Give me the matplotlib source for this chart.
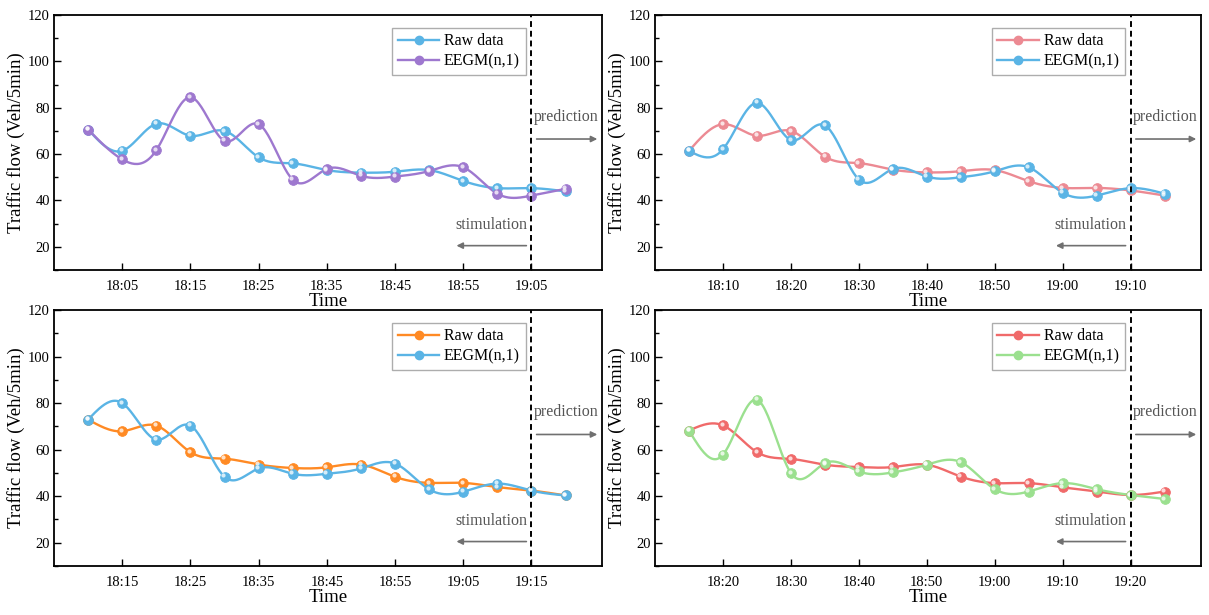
import numpy as np
import matplotlib
matplotlib.use("Agg")
import matplotlib.pyplot as plt
from matplotlib.transforms import offset_copy
from matplotlib.ticker import MultipleLocator

plt.rcParams["font.family"] = ["Liberation Serif", "DejaVu Serif"]

# ---- data (veh / 5 min) ----
times_1 = ["18:00", "18:05", "18:10", "18:15", "18:20", "18:25", "18:30", "18:35",
           "18:40", "18:45", "18:50", "18:55", "19:00", "19:05", "19:10"]
raw_1 = [70.6, 61.4, 73.1, 67.9, 70.0, 58.6, 56.0, 53.1, 52.0, 52.4, 53.1, 48.4, 45.3, 45.3, 43.9]
eegm_1 = [70.6, 57.7, 61.7, 84.5, 65.7, 72.9, 48.9, 53.6, 50.6, 50.3, 52.7, 54.3, 42.9, 42.1, 45.0]

times_2 = ["18:05", "18:10", "18:15", "18:20", "18:25", "18:30", "18:35", "18:40",
           "18:45", "18:50", "18:55", "19:00", "19:05", "19:10", "19:15"]
raw_2 = [61.4, 72.9, 67.9, 70.0, 58.9, 56.1, 53.3, 52.1, 52.6, 53.1, 48.3, 45.4, 45.4, 44.3, 42.1]
eegm_2 = [61.4, 62.1, 82.1, 66.1, 72.4, 49.0, 53.6, 50.3, 50.0, 52.6, 54.3, 43.3, 42.1, 45.3, 42.9]

times_3 = ["18:10", "18:15", "18:20", "18:25", "18:30", "18:35", "18:40", "18:45",
           "18:50", "18:55", "19:00", "19:05", "19:10", "19:15", "19:20"]
raw_3 = [72.9, 67.9, 70.3, 58.9, 56.1, 53.6, 52.1, 52.4, 53.6, 48.3, 45.7, 45.7, 43.9, 42.4, 40.3]
eegm_3 = [72.9, 80.0, 64.3, 70.3, 48.3, 51.9, 49.6, 49.6, 51.9, 54.0, 42.9, 41.9, 45.4, 42.4, 40.3]

times_4 = ["18:15", "18:20", "18:25", "18:30", "18:35", "18:40", "18:45", "18:50",
           "18:55", "19:00", "19:05", "19:10", "19:15", "19:20", "19:25"]
raw_4 = [68.2, 70.4, 58.9, 56.0, 53.5, 52.5, 52.5, 53.5, 48.4, 45.6, 45.6, 43.8, 42.0, 40.5, 42.0]
eegm_4 = [68.2, 57.8, 81.4, 49.9, 54.2, 50.6, 50.2, 53.5, 54.6, 43.0, 42.0, 45.6, 43.0, 40.5, 38.8]

split_idx = 13  # last fitted point, start of prediction

panels = [
    (times_1, raw_1, eegm_1, "#5AB4E5", "#9E78CF"),
    (times_2, raw_2, eegm_2, "#EC8A93", "#5AB4E5"),
    (times_3, raw_3, eegm_3, "#FF8A24", "#5AB4E5"),
    (times_4, raw_4, eegm_4, "#F06A6A", "#9BE08F"),
]


def smooth(x, y, n=25):
    """natural cubic spline through the points, only for drawing the line"""
    x = np.asarray(x, float); y = np.asarray(y, float)
    k = len(x); h = np.diff(x)
    A = np.zeros((k, k)); b = np.zeros(k)
    A[0, 0] = A[-1, -1] = 1
    for i in range(1, k - 1):
        A[i, i - 1] = h[i - 1]; A[i, i] = 2 * (h[i - 1] + h[i]); A[i, i + 1] = h[i]
        b[i] = 6 * ((y[i + 1] - y[i]) / h[i] - (y[i] - y[i - 1]) / h[i - 1])
    M = np.linalg.solve(A, b)
    xs, ys = [], []
    for i in range(k - 1):
        t = np.linspace(x[i], x[i + 1], n, endpoint=(i == k - 2))
        a, c = x[i + 1] - t, t - x[i]
        s = (M[i] * a ** 3 + M[i + 1] * c ** 3) / (6 * h[i]) \
            + (y[i] / h[i] - M[i] * h[i] / 6) * a + (y[i + 1] / h[i] - M[i + 1] * h[i] / 6) * c
        xs.append(t); ys.append(s)
    return np.concatenate(xs), np.concatenate(ys)


def ball_line(ax, fig, x, y, color, label):
    xs, ys = smooth(x, y)
    ax.plot(xs, ys, color=color, lw=1.7, zorder=2)
    ax.plot(x, y, ls="none", marker="o", ms=7, mfc=color, mec=color, mew=0.6, zorder=3)
    hl = offset_copy(ax.transData, fig=fig, x=-1.0, y=1.0, units="points")
    ax.plot(x, y, ls="none", marker="o", ms=3, mfc="white", mec="none",
            alpha=0.75, transform=hl, zorder=4)
    # legend proxy
    ax.plot([], [], color=color, lw=1.7, marker="o", ms=6, mfc=color, mec=color,
            label=label)


fig = plt.figure(figsize=(12.09, 6.15), dpi=100)
boxes = [(0.0447, 0.561, 0.4533, 0.4146), (0.5418, 0.561, 0.4516, 0.4146),
         (0.0447, 0.0797, 0.4533, 0.4163), (0.5418, 0.0797, 0.4516, 0.4163)]

for box, (times, raw, eegm, c_raw, c_eegm) in zip(boxes, panels):
    ax = fig.add_axes(box)
    x = np.arange(len(times))
    ball_line(ax, fig, x, raw, c_raw, "Raw data")
    ball_line(ax, fig, x, eegm, c_eegm, "EEGM(n,1)")

    ax.axvline(split_idx, color="black", ls=(0, (3, 2)), lw=1.4, zorder=5)
    ax.text(split_idx + 0.07, 76, "prediction", fontsize=11.5, color="#555555",
            ha="left", va="center")
    ax.annotate("", xy=(14.93, 66.5), xytext=(split_idx + 0.15, 66.5),
                arrowprops=dict(arrowstyle="-|>", color="#707070", lw=1.2,
                                mutation_scale=9, shrinkA=0, shrinkB=0))
    ax.text(split_idx - 0.13, 29.5, "stimulation", fontsize=11.5, color="#555555",
            ha="right", va="center")
    ax.annotate("", xy=(10.8, 20.5), xytext=(split_idx - 0.15, 20.5),
                arrowprops=dict(arrowstyle="-|>", color="#707070", lw=1.2,
                                mutation_scale=9, shrinkA=0, shrinkB=0))

    ax.set_xlim(-1.0, 15.07)
    ax.set_ylim(10, 120)
    ax.set_xticks(x[1::2])
    ax.set_xticklabels(times[1::2])
    ax.set_yticks([20, 40, 60, 80, 100, 120])
    ax.yaxis.set_minor_locator(MultipleLocator(10))
    ax.tick_params(direction="in", labelsize=10.5, width=1.0, pad=3)
    ax.tick_params(axis="x", pad=7)
    ax.tick_params(which="major", length=5)
    ax.tick_params(which="minor", direction="in", length=3, width=1.0)
    for sp in ax.spines.values():
        sp.set_linewidth(1.3)
    ax.set_xlabel("Time", fontsize=13.5, labelpad=0)
    ax.set_ylabel("Traffic flow (Veh/5min)", fontsize=13.5, labelpad=2)

    leg = ax.legend(loc="upper left", bbox_to_anchor=(0.617, 0.95), fontsize=11.5,
                    frameon=True, fancybox=False, handlelength=2.6,
                    handletextpad=0.3, borderpad=0.35, labelspacing=0.25,
                    borderaxespad=0)
    leg.get_frame().set_edgecolor("#999999")
    leg.get_frame().set_linewidth(1.0)

fig.savefig("out.png", dpi=100)
